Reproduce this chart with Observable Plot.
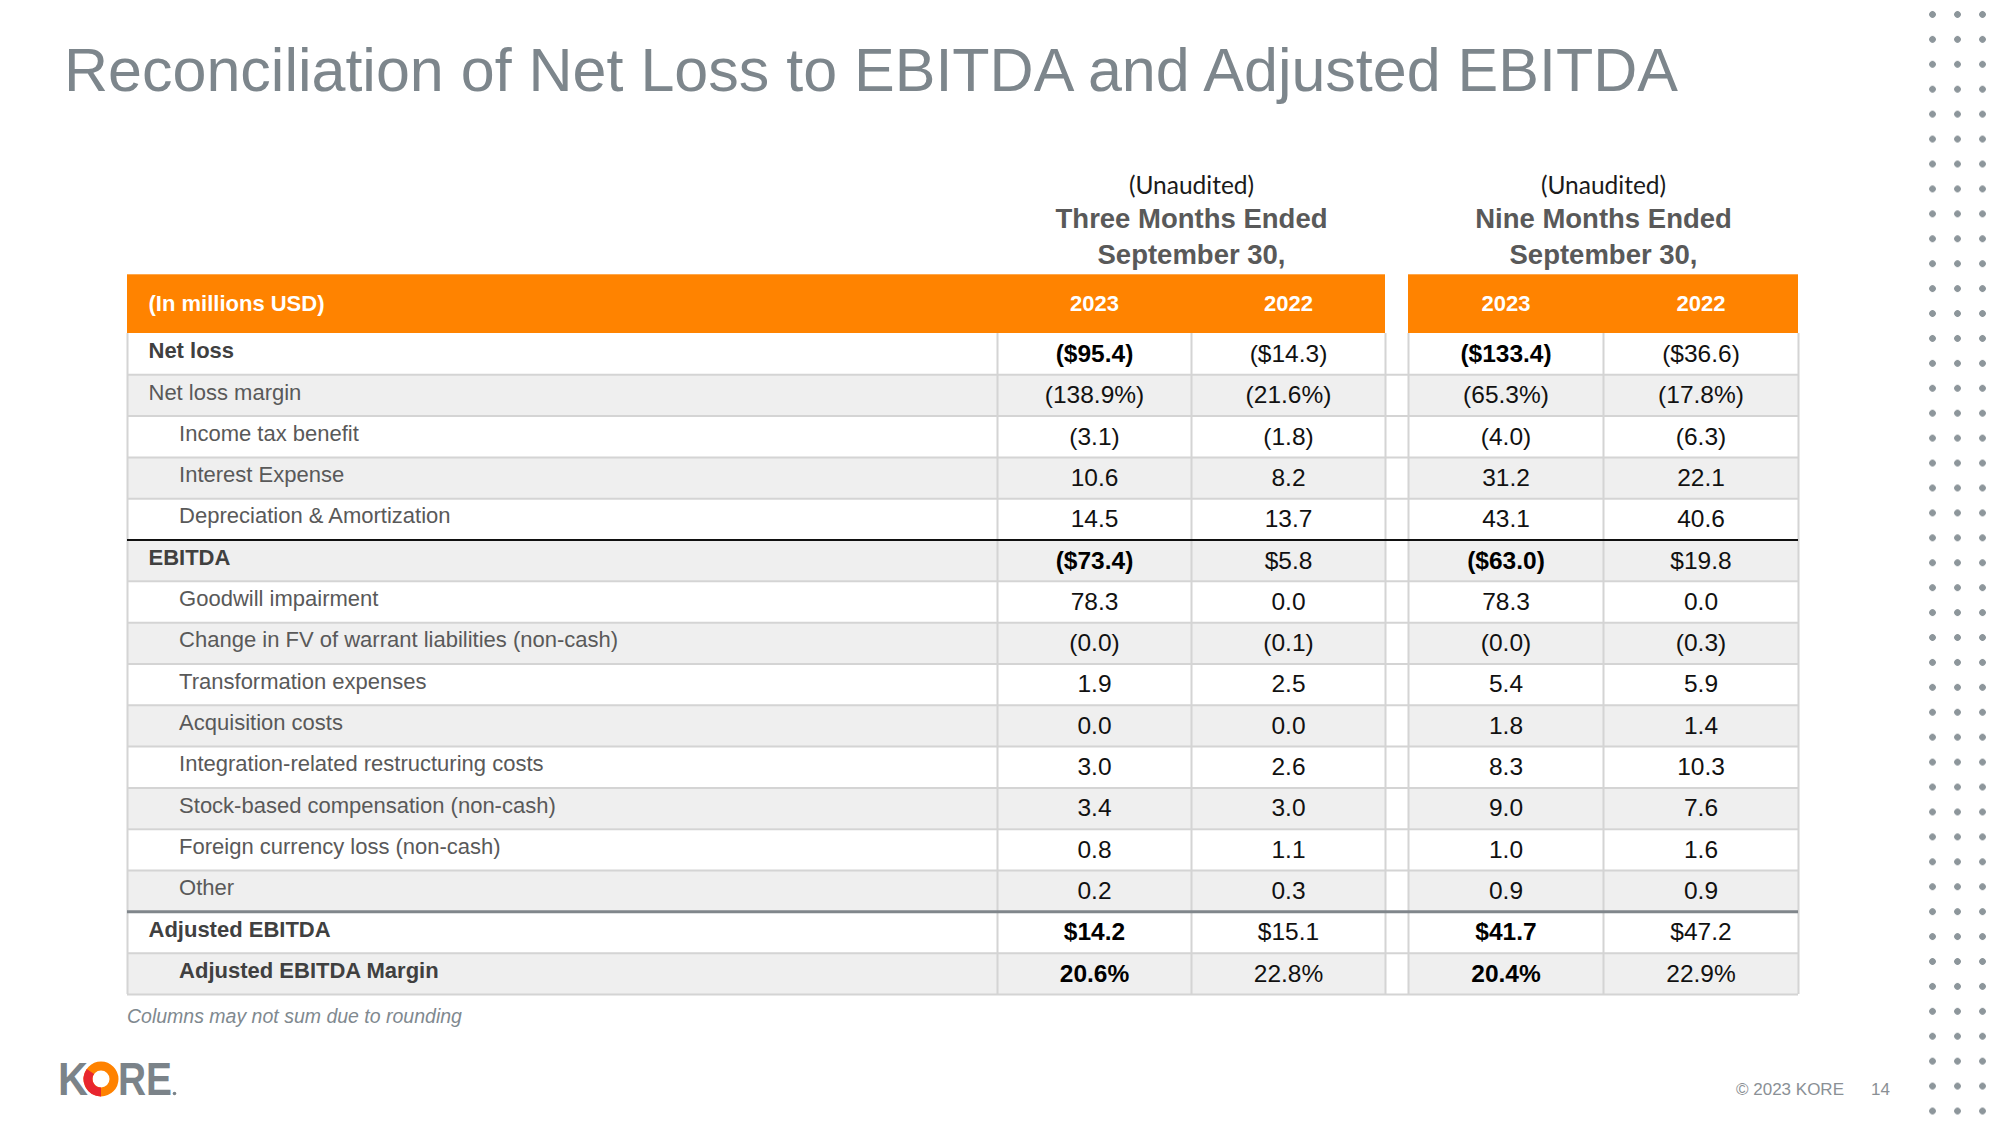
<!DOCTYPE html>
<html>
<head>
<meta charset="utf-8">
<script src="https://cdn.jsdelivr.net/npm/d3@7"></script>
<script src="https://cdn.jsdelivr.net/npm/@observablehq/plot@0.6"></script>
<style>
  html, body { margin: 0; padding: 0; background: #fff; }
  #page { position: relative; width: 2000px; height: 1125px; overflow: hidden; background: #fff; font-family: "Liberation Sans", Arial, sans-serif; }
  #title { position: absolute; left: 64px; top: 40px; font-size: 61px; line-height: 61px; color: #7d868c; white-space: nowrap; }
  #chart { position: absolute; left: 0; top: 130px; }
  #note { position: absolute; left: 127px; top: 1005px; font-size: 19.5px; line-height: 22px; font-style: italic; color: #80898f; white-space: nowrap; }
  #copy { position: absolute; left: 1736px; top: 1080px; font-size: 17px; line-height: 20px; color: #8a9095; white-space: nowrap; }
  #pageno { position: absolute; left: 1871px; top: 1080px; font-size: 17px; line-height: 20px; color: #8a9095; }
  #dots { position: absolute; left: 1919.5px; top: 1.5px; width: 75px; height: 1122px;
          background-image: radial-gradient(circle, #8d969b 3px, rgba(255,255,255,0) 3.7px);
          background-size: 25px 24.93px; }
  #logo { position: absolute; left: 50px; top: 1050px; }
</style>
</head>
<body>
<div id="page">
  <div id="title">Reconciliation of Net Loss to EBITDA and Adjusted EBITDA</div>
  <div id="chart"></div>
  <div id="note">Columns may not sum due to rounding</div>
  <svg id="logo" width="140" height="60" viewBox="0 0 140 60">
    <text x="8" y="45" font-family="Liberation Sans, Arial, sans-serif" font-weight="bold" font-size="46" fill="#7b8389" textLength="30" lengthAdjust="spacingAndGlyphs">K</text>
    <circle cx="51" cy="29" r="13" fill="none" stroke="#ff8200" stroke-width="9"></circle>
    <path d="M 51 42 A 13 13 0 0 1 40.4 21.5" fill="none" stroke="#e8262f" stroke-width="9"></path>
    <text x="68" y="45" font-family="Liberation Sans, Arial, sans-serif" font-weight="bold" font-size="46" fill="#7b8389" textLength="54" lengthAdjust="spacingAndGlyphs">RE</text>
    <circle cx="124.5" cy="43.5" r="1.8" fill="#7b8389"></circle>
  </svg>
  <div id="copy">© 2023 KORE</div>
  <div id="pageno">14</div>
  <div id="dots"></div>
</div>
<script>
// ---------------- DATA ----------------
const headerLabel = "(In millions USD)";
const groupNote = "(Unaudited)";
const groupTitles = ["Three Months Ended", "Nine Months Ended"];
const groupSubtitle = "September 30,";
const yearLabels = ["2023", "2022", "2023", "2022"];

const rowLabels = [
  "Net loss",
  "Net loss margin",
  "Income tax benefit",
  "Interest Expense",
  "Depreciation & Amortization",
  "EBITDA",
  "Goodwill impairment",
  "Change in FV of warrant liabilities (non-cash)",
  "Transformation expenses",
  "Acquisition costs",
  "Integration-related restructuring costs",
  "Stock-based compensation (non-cash)",
  "Foreign currency loss (non-cash)",
  "Other",
  "Adjusted EBITDA",
  "Adjusted EBITDA Margin"
];
// row role: total / ratio / item / totalRatio
const rowType = ["total","ratio","item","item","item","total","item","item","item","item","item","item","item","item","total","totalRatio"];
// value format: dollar / pct / num
const rowKind = ["dollar","pct","num","num","num","dollar","num","num","num","num","num","num","num","num","dollar","pct"];

const threeMonths2023 = [-95.4, -138.9, -3.1, 10.6, 14.5, -73.4, 78.3, -0.0, 1.9, 0.0, 3.0, 3.4, 0.8, 0.2, 14.2, 20.6];
const threeMonths2022 = [-14.3, -21.6, -1.8, 8.2, 13.7, 5.8, 0.0, -0.1, 2.5, 0.0, 2.6, 3.0, 1.1, 0.3, 15.1, 22.8];
const nineMonths2023  = [-133.4, -65.3, -4.0, 31.2, 43.1, -63.0, 78.3, -0.0, 5.4, 1.8, 8.3, 9.0, 1.0, 0.9, 41.7, 20.4];
const nineMonths2022  = [-36.6, -17.8, -6.3, 22.1, 40.6, 19.8, 0.0, -0.3, 5.9, 1.4, 10.3, 7.6, 1.6, 0.9, 47.2, 22.9];

// ---------------- LAYOUT ----------------
const colWidths = [870, 194, 194, 23, 195, 195]; // label, 3M-2023, 3M-2022, gap, 9M-2023, 9M-2022
const edges = colWidths.reduce((a, w) => (a.push(a[a.length - 1] + w), a), [0]);
const tableW = edges[edges.length - 1];
const center = k => (edges[k] + edges[k + 1]) / 2;
const nRows = rowLabels.length;
const rowH = 41.31;
const rowTop = 203;
const hdr = 58.7 / rowH;           // header band height in row units
const px = p => p / rowH;          // pixel offset -> row units
const segments = [{x1: edges[0], x2: edges[3]}, {x1: edges[4], x2: edges[6]}];
const valueCols = [
  {col: 1, values: threeMonths2023, boldable: true},
  {col: 2, values: threeMonths2022, boldable: false},
  {col: 4, values: nineMonths2023, boldable: true},
  {col: 5, values: nineMonths2022, boldable: false}
];
const groups = [{col: [1, 2], title: groupTitles[0]}, {col: [4, 5], title: groupTitles[1]}]
  .map(g => ({...g, x: (edges[g.col[0]] + edges[g.col[1] + 1]) / 2}));

function fmt(v, kind) {
  const neg = v < 0 || Object.is(v, -0);
  const a = Math.abs(v).toFixed(1);
  let s = kind === "dollar" ? "$" + a : kind === "pct" ? a + "%" : a;
  return neg ? "(" + s + ")" : s;
}

const rows = rowLabels.map((label, i) => ({
  i, label, type: rowType[i],
  bold: rowType[i] === "total" || rowType[i] === "totalRatio",
  indent: rowType[i] === "item" || rowType[i] === "totalRatio"
}));
const bgs = [];
rows.forEach(r => segments.forEach(s => bgs.push({...s, i: r.i, fill: r.i % 2 ? "#efefef" : "#ffffff"})));
const cells = [];
valueCols.forEach(c => c.values.forEach((v, i) => cells.push({
  i, x: center(c.col), text: fmt(v, rowKind[i]), bold: c.boldable && rows[i].bold
})));
const years = valueCols.map((c, k) => ({x: center(c.col), text: yearLabels[k]}));
const hLines = d3.range(1, nRows + 1).filter(i => rowType[i] !== "total" || i === nRows);
const vLines = edges;

const font = "Liberation Sans, Arial, sans-serif";

const chart = Plot.plot({
  width: 2000,
  height: 880,
  margin: 0,
  x: {domain: [0, tableW], range: [127, 1798], axis: null},
  y: {domain: [0, nRows], range: [rowTop, rowTop + nRows * rowH], axis: null},
  style: {fontFamily: font, background: "transparent", overflow: "visible"},
  marks: [
    // row backgrounds
    Plot.rect(bgs, {x1: "x1", x2: "x2", y1: d => d.i, y2: d => d.i + 1, fill: d => d.fill}),
    // orange header bands
    Plot.rect(segments, {x1: "x1", x2: "x2", y1: () => -hdr, y2: () => 0, fill: "#ff8300"}),
    // row separators
    Plot.ruleY(hLines, {y: d => d, x1: () => 0, x2: () => tableW, stroke: "#d4d4d4", strokeWidth: 2}),
    // column separators
    Plot.ruleX(vLines, {x: d => d, y1: () => 0, y2: () => nRows, stroke: "#d4d4d4", strokeWidth: 2}),
    // subtotal lines
    Plot.ruleY(rows.filter(r => r.label === "EBITDA"), {y: d => d.i, x1: () => 0, x2: () => tableW, stroke: "#111", strokeWidth: 2}),
    Plot.ruleY(rows.filter(r => r.label === "Adjusted EBITDA"), {y: d => d.i, x1: () => 0, x2: () => tableW, stroke: "#80868b", strokeWidth: 3}),
    // group headings
    Plot.text(groups, {x: "x", y: () => px(186 - 130 - rowTop), text: () => groupNote, fontSize: 24.5, fill: "#1a1a1a", fontFamily: "Lato, 'Open Sans', sans-serif"}),
    Plot.text(groups, {x: "x", y: () => px(219 - 130 - rowTop), text: "title", fontSize: 27.5, fontWeight: "bold", fill: "#595959"}),
    Plot.text(groups, {x: "x", y: () => px(255 - 130 - rowTop), text: () => groupSubtitle, fontSize: 27.5, fontWeight: "bold", fill: "#595959"}),
    // header texts
    Plot.text([headerLabel], {x: () => 21, y: () => -hdr / 2, text: d => d, textAnchor: "start", fontSize: 22, fontWeight: "bold", fill: "#ffffff"}),
    Plot.text(years, {x: "x", y: () => -hdr / 2, text: "text", fontSize: 22, fontWeight: "bold", fill: "#ffffff"}),
    // row labels
    Plot.text(rows.filter(r => !r.bold), {x: d => d.indent ? 51.6 : 21, y: d => d.i + 0.5, dy: -3, text: "label", textAnchor: "start", fontSize: 22, fill: "#595959"}),
    Plot.text(rows.filter(r => r.bold), {x: d => d.indent ? 51.6 : 21, y: d => d.i + 0.5, dy: -3, text: "label", textAnchor: "start", fontSize: 22, fontWeight: "bold", fill: "#404040"}),
    // values
    Plot.text(cells.filter(c => !c.bold), {x: "x", y: d => d.i + 0.5, text: "text", fontSize: 24.5, fill: "#111"}),
    Plot.text(cells.filter(c => c.bold), {x: "x", y: d => d.i + 0.5, text: "text", fontSize: 24.5, fontWeight: "bold", fill: "#000"})
  ]
});
document.getElementById("chart").appendChild(chart);
</script>
</body>
</html>
